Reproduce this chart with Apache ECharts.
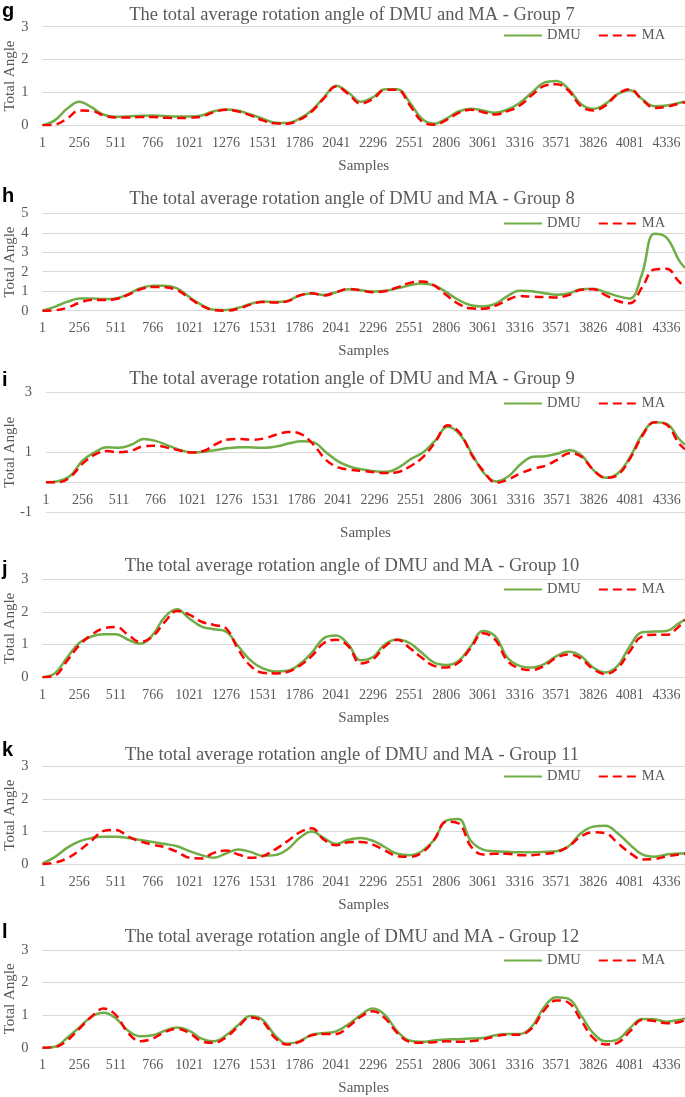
<!DOCTYPE html>
<html><head><meta charset="utf-8">
<script src="https://cdn.jsdelivr.net/npm/echarts@6/dist/echarts.min.js"></script>
<style>html,body{margin:0;padding:0;background:#fff}#c{width:685px;height:1097px}</style>
</head><body><div id="c"></div>
<script>
// ---- data ----
const SAMPLES = [1,86,171,256,341,426,511,596,681,766,851,936,1021,1106,1191,1276,1361,1446,1531,1616,1701,1786,1871,1956,2041,2126,2211,2296,2381,2466,2551,2636,2721,2806,2891,2976,3061,3146,3231,3316,3401,3486,3571,3656,3741,3826,3911,3996,4081,4166,4251,4336,4421,4464];
const PANEL_LETTERS = ['g','h','i','j','k','l'];
const PANEL_TITLES = [
  'The total average rotation angle of DMU and MA - Group 7',
  'The total average rotation angle of DMU and MA - Group 8',
  'The total average rotation angle of DMU and MA - Group 9',
  'The total average rotation angle of DMU and MA - Group 10',
  'The total average rotation angle of DMU and MA - Group 11',
  'The total average rotation angle of DMU and MA - Group 12'
];
const SERIES_NAMES = ['DMU','MA'];
const X_NAME = 'Samples';
const Y_NAME = 'Total Angle';
const Y_MIN = [0,0,-1,0,0,0];
const Y_MAX = [3,5,3,3,3,3];
const Y_STEP = [1,1,2,1,1,1];

const G_DMU = [0,0.15,0.5,0.72,0.55,0.32,0.26,0.27,0.29,0.3, 0.28,0.27,0.27,0.3,0.43,0.48,0.44,0.33,0.2,0.08, 0.07,0.2,0.45,0.85,1.2,1.0,0.72,0.85,1.1,1.1, 0.7,0.2,0.05,0.2,0.42,0.5,0.45,0.38,0.48,0.68, 1.0,1.3,1.35,1.1,0.65,0.5,0.65,0.95,1.07,0.8, 0.58,0.6,0.68,0.72];
const G_MA  = [0,0.02,0.2,0.45,0.44,0.3,0.24,0.24,0.25,0.25, 0.23,0.22,0.23,0.26,0.4,0.47,0.42,0.3,0.15,0.06, 0.05,0.17,0.42,0.82,1.18,0.95,0.66,0.8,1.08,1.08, 0.62,0.12,0.02,0.16,0.38,0.47,0.4,0.33,0.43,0.6, 0.92,1.2,1.25,1.05,0.58,0.45,0.6,0.95,1.1,0.78, 0.53,0.56,0.66,0.7];
const H_DMU = [0,0.2,0.45,0.62,0.63,0.6,0.63,0.85,1.15,1.28, 1.28,1.15,0.7,0.3,0.05,0.03,0.15,0.35,0.47,0.45, 0.5,0.78,0.88,0.8,0.95,1.1,1.05,0.98,1.02,1.15, 1.3,1.4,1.3,0.95,0.55,0.28,0.22,0.35,0.75,1.03, 1.0,0.9,0.82,0.88,1.1,1.13,0.95,0.75,0.63,1.9, 3.95,3.75,2.6,2.2];
const H_MA  = [0,0.02,0.15,0.4,0.55,0.55,0.6,0.82,1.1,1.22, 1.2,1.05,0.65,0.25,0.03,0.0,0.1,0.32,0.45,0.42, 0.48,0.78,0.9,0.78,0.95,1.12,1.05,0.95,1.0,1.2, 1.42,1.5,1.3,0.8,0.35,0.12,0.1,0.25,0.55,0.75, 0.72,0.7,0.68,0.8,1.08,1.1,0.8,0.5,0.38,1.2, 2.12,2.15,1.5,1.2];
const I_DMU = [0,0.04,0.22,0.72,1.0,1.17,1.15,1.25,1.44,1.38, 1.23,1.08,1.0,1.02,1.08,1.14,1.17,1.16,1.15,1.2, 1.3,1.37,1.33,1.0,0.7,0.52,0.43,0.37,0.35,0.5, 0.78,1.0,1.4,1.85,1.6,0.95,0.3,0.03,0.2,0.6, 0.85,0.87,0.95,1.07,0.9,0.4,0.15,0.3,0.85,1.6, 2.0,1.95,1.45,1.25];
const I_MA  = [0,0.0,0.18,0.62,0.92,1.04,1.0,1.05,1.2,1.22, 1.15,1.06,0.99,1.05,1.28,1.43,1.44,1.42,1.47,1.6, 1.68,1.6,1.25,0.75,0.5,0.42,0.38,0.33,0.31,0.35, 0.55,0.85,1.35,1.9,1.65,0.9,0.35,-0.02,0.1,0.3, 0.45,0.55,0.75,0.97,0.85,0.4,0.15,0.25,0.8,1.55, 2.0,1.92,1.3,1.1];
const J_DMU = [0,0.12,0.6,1.05,1.25,1.32,1.32,1.15,1.03,1.3, 1.85,2.08,1.8,1.55,1.47,1.4,0.95,0.52,0.27,0.18, 0.2,0.4,0.75,1.2,1.28,1.0,0.52,0.62,1.02,1.16, 1.05,0.75,0.45,0.38,0.5,0.95,1.42,1.25,0.6,0.35, 0.3,0.4,0.65,0.78,0.65,0.3,0.15,0.35,0.95,1.38, 1.4,1.42,1.65,1.78];
const J_MA  = [0,0.05,0.5,0.98,1.3,1.5,1.54,1.3,1.08,1.25, 1.7,2.03,1.92,1.7,1.6,1.5,0.85,0.35,0.14,0.12, 0.16,0.35,0.65,1.05,1.15,0.95,0.42,0.55,0.95,1.15, 0.9,0.6,0.35,0.3,0.45,0.9,1.35,1.15,0.5,0.27, 0.22,0.35,0.6,0.7,0.58,0.25,0.1,0.28,0.8,1.25, 1.3,1.3,1.55,1.75];
const K_DMU = [0.03,0.22,0.5,0.7,0.8,0.84,0.84,0.8,0.74,0.68, 0.62,0.55,0.4,0.28,0.2,0.33,0.45,0.38,0.26,0.28, 0.45,0.8,1.0,0.8,0.62,0.75,0.8,0.72,0.52,0.32, 0.28,0.4,0.74,1.33,1.38,0.72,0.45,0.4,0.38,0.37, 0.37,0.38,0.4,0.55,0.95,1.15,1.18,0.95,0.6,0.3, 0.23,0.3,0.33,0.34];
const K_MA  = [0,0.05,0.18,0.42,0.72,1.02,1.05,0.85,0.7,0.6, 0.52,0.38,0.2,0.18,0.35,0.42,0.3,0.2,0.25,0.45, 0.7,0.97,1.1,0.75,0.58,0.67,0.68,0.6,0.42,0.25, 0.23,0.35,0.74,1.3,1.25,0.55,0.3,0.32,0.32,0.28, 0.28,0.32,0.37,0.55,0.85,0.98,0.95,0.65,0.35,0.15, 0.16,0.24,0.3,0.32];
const L_DMU = [0,0.03,0.3,0.62,0.95,1.07,0.9,0.52,0.35,0.38, 0.52,0.62,0.52,0.28,0.2,0.38,0.7,0.97,0.85,0.38, 0.12,0.2,0.4,0.45,0.5,0.72,1.0,1.2,1.0,0.5, 0.22,0.18,0.22,0.25,0.26,0.28,0.3,0.38,0.42,0.42, 0.65,1.25,1.55,1.5,1.0,0.45,0.2,0.25,0.6,0.88, 0.87,0.8,0.85,0.9];
const L_MA  = [0,0.02,0.22,0.58,0.95,1.2,1.0,0.45,0.2,0.28, 0.48,0.58,0.45,0.2,0.15,0.32,0.65,0.93,0.8,0.3, 0.1,0.18,0.38,0.42,0.42,0.65,0.95,1.12,0.9,0.45, 0.18,0.15,0.17,0.2,0.18,0.2,0.25,0.35,0.4,0.4, 0.6,1.15,1.45,1.38,0.85,0.3,0.1,0.15,0.5,0.85, 0.82,0.75,0.78,0.85];
const DMU_VALUES = [G_DMU,H_DMU,I_DMU,J_DMU,K_DMU,L_DMU];
const MA_VALUES  = [G_MA,H_MA,I_MA,J_MA,K_MA,L_MA];

// ---- layout & style ----
const GRID_LEFT   = [42.5,42.5,46,42.5,42.5,42.5];
const GRID_TOP    = [26.7,213.3,392.3,579.3,766,950];
const GRID_BOTTOM = [125.3,310.7,512.3,677.3,864.3,1047.7];
const TITLE_Y  = [15,199,379,566,755,937.5];
const LETTER_Y = [11.5,196.7,380.5,569,750,932.7];
const LEGEND_Y = [35,223,403,589,776,960];
const XNAME_GAP = [33,33,43,33,33,33];
const YNAME_GAP = [25,25,28.5,25,25,25];
const X_MIN = 1, X_MAX = 4464, X_STEP = 255;
const SERIF = '"Liberation Serif","Times New Roman",serif';
const GREY = '#595959';
const GRIDC = '#d9d9d9';
const GREEN = '#70AD47';
const RED = '#FF0000';

const chart = echarts.init(document.getElementById('c'), null, {renderer:'canvas'});
const grid=[], xAxis=[], yAxis=[], series=[], legend=[], graphic=[];
for (let p=0;p<6;p++){
  const h = GRID_BOTTOM[p]-GRID_TOP[p];
  // place the horizontal axis at value 0 of the vertical axis
  const zeroOffset = -(0 - Y_MIN[p])/(Y_MAX[p]-Y_MIN[p])*h;
  grid.push({left:GRID_LEFT[p], right:0, top:GRID_TOP[p], height:h, containLabel:false, outerBoundsMode:'none'});
  xAxis.push({type:'value', gridIndex:p, min:X_MIN, max:X_MAX, interval:X_STEP, offset:zeroOffset,
    axisLine:{show:true, onZero:false, lineStyle:{color:GRIDC, width:1}},
    axisTick:{show:false}, splitLine:{show:false},
    axisLabel:{margin:11, color:GREY, fontSize:14, fontFamily:SERIF,
      showMaxLabel:false,
      formatter:v=>((v-X_MIN)%X_STEP===0 ? String(v) : '')},
    name:X_NAME, nameLocation:'middle', nameGap:XNAME_GAP[p], nameMoveOverlap:false,
    nameTextStyle:{color:GREY, fontSize:15, fontFamily:SERIF}});
  yAxis.push({type:'value', gridIndex:p, min:Y_MIN[p], max:Y_MAX[p], interval:Y_STEP[p],
    axisLine:{show:false}, axisTick:{show:false},
    splitLine:{show:true, lineStyle:{color:GRIDC, width:1}},
    axisLabel:{margin:14, color:GREY, fontSize:14.5, fontFamily:SERIF},
    name:Y_NAME, nameLocation:'middle', nameGap:YNAME_GAP[p], nameRotate:90, nameMoveOverlap:false,
    nameTextStyle:{color:GREY, fontSize:15, fontFamily:SERIF}});
  series.push({name:SERIES_NAMES[0], type:'line', xAxisIndex:p, yAxisIndex:p,
    data:SAMPLES.map((s,i)=>[s, DMU_VALUES[p][i]]),
    symbol:'none', showSymbol:false, smooth:0.4, z:2,
    lineStyle:{color:GREEN, width:2.5}, itemStyle:{color:GREEN}});
  series.push({name:SERIES_NAMES[1], type:'line', xAxisIndex:p, yAxisIndex:p,
    data:SAMPLES.map((s,i)=>[s, MA_VALUES[p][i]]),
    symbol:'none', showSymbol:false, smooth:0.4, z:3,
    lineStyle:{color:RED, width:2.5, type:[9,5]}, itemStyle:{color:RED}});
  legend.push({data:SERIES_NAMES, left:503, top:LEGEND_Y[p]-7, padding:0, itemGap:17,
    itemWidth:38, itemHeight:14, selectedMode:false,
    itemStyle:{opacity:0},
    textStyle:{color:GREY, fontSize:14.5, fontFamily:SERIF, padding:[0,0,0,0]}});
  graphic.push({type:'text', x:352, y:TITLE_Y[p], silent:true,
    style:{text:PANEL_TITLES[p], fill:GREY, font:'18.5px '+SERIF, align:'center', verticalAlign:'middle'}});
  graphic.push({type:'text', x:2, y:LETTER_Y[p], silent:true,
    style:{text:PANEL_LETTERS[p], fill:'#000', font:'bold 20px "Liberation Sans",Arial,sans-serif', align:'left', verticalAlign:'middle'}});
}
chart.setOption({animation:false, backgroundColor:'#fff', grid, xAxis, yAxis, series, legend, graphic});
</script></body></html>
